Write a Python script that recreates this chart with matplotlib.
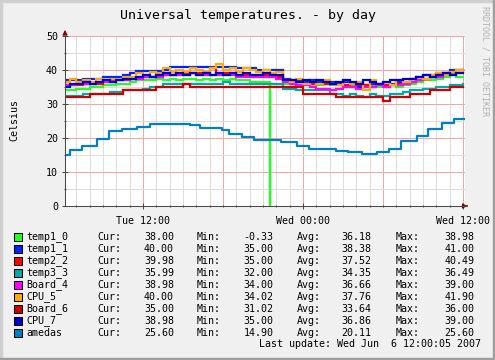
import numpy as np
import matplotlib
matplotlib.use("Agg")
from matplotlib import pyplot as plt
from matplotlib.patches import Rectangle

# hours since Tue 00:00, one sample every half hour (6.0 .. 36.0)
hours = [6.0 + 0.5 * i for i in range(61)]

temp1_0 = [34.0, 34.0, 34.5, 34.5, 35.0, 35.0, 35.5, 35.5, 36.0, 36.0,
           36.5, 37.0, 37.0, 37.0, 37.5, 37.0, 37.5, 37.0, 37.5, 37.5,
           37.0, 37.5, 37.0, 37.5, 37.0, 37.5, 37.0, 37.0, 36.5, 36.5,
           36.5, 36.0, 36.0, 36.0, 36.0, 35.5, 36.0, 36.0, 35.5, 36.0,
           35.5, 36.0, 35.5, 35.5, 36.0, 35.5, 35.5, 35.0, 35.0, 35.5,
           35.0, 35.5, 36.0, 36.5, 37.0, 37.0, 37.5, 38.0, 38.98, 38.0,
           38.0]
# short sensor dropout of temp1_0 (start, end, value)
drop_t = [21.5, 21.56]
drop_v = -0.33

temp1_1 = [37.0, 37.0, 37.0, 37.5, 37.5, 37.5, 38.0, 38.0, 38.0, 38.5,
           39.0, 39.8, 39.8, 39.8, 39.8, 40.0, 41.0, 41.0, 41.0, 41.0,
           41.0, 41.0, 41.0, 41.0, 41.0, 41.0, 40.5, 40.5, 40.5, 40.0,
           40.0, 40.0, 40.0, 37.5, 37.0, 37.0, 36.5, 37.0, 36.5, 36.0,
           36.5, 36.0, 36.5, 36.0, 35.0, 35.5, 36.0, 36.0, 35.5, 36.0,
           36.5, 36.5, 37.5, 38.0, 38.5, 38.5, 39.0, 39.0, 40.0, 40.0,
           40.0]

temp2_2 = [35.5, 35.5, 35.5, 36.0, 36.0, 36.0, 36.5, 36.5, 37.0, 37.0,
           37.5, 38.0, 38.0, 38.0, 38.5, 38.5, 38.5, 39.0, 39.0, 39.0,
           39.0, 39.0, 40.49, 39.0, 39.0, 39.0, 38.5, 38.5, 38.5, 38.5,
           38.5, 38.5, 38.0, 37.0, 36.5, 36.5, 36.0, 36.0, 36.0, 36.0,
           36.0, 35.5, 35.5, 35.0, 35.5, 35.5, 35.0, 35.5, 35.5, 35.5,
           36.0, 36.0, 36.5, 37.0, 37.5, 38.0, 38.5, 39.0, 39.5, 40.0,
           39.98]

temp3_3 = [32.5, 32.5, 32.5, 33.0, 33.0, 33.0, 33.0, 33.5, 33.5, 34.0,
           34.0, 34.0, 34.5, 35.0, 35.0, 35.9, 35.9, 35.9, 35.9, 35.9,
           35.9, 35.9, 35.9, 35.9, 36.49, 35.9, 35.9, 35.9, 35.9, 35.9,
           35.9, 35.9, 35.9, 34.5, 34.5, 34.0, 34.0, 34.0, 34.0, 34.0,
           33.0, 33.0, 32.5, 33.0, 32.5, 32.0, 33.0, 32.5, 32.5, 33.0,
           33.0, 33.5, 34.0, 34.0, 34.5, 34.5, 35.0, 35.0, 35.5, 35.5,
           35.99]

board_4 = [35.5, 35.5, 36.0, 36.0, 36.0, 36.5, 36.5, 37.0, 37.0, 37.0,
           37.5, 37.5, 38.0, 38.0, 38.0, 38.5, 38.5, 38.5, 38.5, 39.0,
           38.5, 38.5, 38.5, 38.5, 38.5, 38.5, 38.0, 38.0, 38.0, 38.0,
           38.0, 38.0, 37.5, 36.5, 36.0, 35.5, 35.5, 35.0, 34.5, 34.5,
           34.0, 34.5, 35.0, 35.0, 34.5, 35.0, 35.0, 35.5, 35.0, 35.5,
           35.5, 36.0, 36.5, 37.0, 37.5, 38.0, 38.0, 38.5, 38.5, 39.0,
           38.98]

cpu_5 = [36.5, 37.5, 36.5, 37.0, 36.5, 37.5, 37.0, 37.5, 37.0, 38.0,
         38.0, 39.0, 38.5, 39.5, 39.0, 40.5, 39.5, 40.0, 39.5, 40.5,
         40.0, 39.5, 40.5, 41.9, 40.0, 40.5, 39.5, 40.5, 40.0, 39.5,
         40.0, 39.0, 39.5, 37.0, 36.5, 37.5, 36.0, 36.5, 36.0, 37.0,
         36.0, 35.5, 37.0, 36.0, 36.5, 34.02, 37.0, 36.0, 36.5, 35.5,
         37.0, 36.5, 37.5, 38.0, 37.5, 38.5, 39.0, 38.5, 39.5, 40.0,
         40.0]

board_6 = [32.0, 32.0, 32.0, 32.0, 33.0, 33.0, 33.0, 33.0, 33.0, 34.0,
           34.0, 34.0, 34.0, 34.0, 35.0, 35.0, 35.0, 35.0, 36.0, 35.0,
           35.0, 35.0, 35.0, 35.0, 35.0, 35.0, 35.0, 35.0, 35.0, 35.0,
           35.0, 35.0, 35.0, 35.0, 35.0, 35.0, 33.0, 33.0, 33.0, 33.0,
           33.0, 32.0, 32.0, 32.0, 32.0, 32.0, 32.0, 32.0, 31.02, 32.0,
           32.0, 32.0, 33.0, 33.0, 33.0, 34.0, 34.0, 34.0, 35.0, 35.0,
           35.0]

cpu_7 = [35.0, 36.0, 36.0, 36.5, 36.0, 36.5, 37.0, 36.5, 37.0, 37.5,
         37.5, 38.0, 38.5, 38.0, 38.5, 39.0, 38.5, 39.0, 38.5, 39.0,
         38.5, 39.0, 38.5, 39.0, 38.5, 39.0, 38.5, 39.0, 38.5, 38.5,
         39.0, 38.5, 38.5, 37.0, 37.0, 36.5, 37.0, 36.5, 37.0, 36.5,
         36.0, 36.5, 37.0, 36.5, 36.0, 37.0, 36.5, 36.0, 36.5, 37.0,
         37.0, 37.5, 37.5, 38.0, 38.5, 38.0, 38.5, 39.0, 38.5, 39.0,
         38.98]

amedas_t = [6.15, 6.53, 7.43, 8.55, 9.45, 10.43, 11.55, 12.53, 14.55, 15.53,
            16.28, 17.93, 18.45, 19.43, 20.33, 22.33, 23.55, 24.45, 26.45,
            27.38, 28.4, 29.58, 30.45, 31.35, 32.58, 33.4, 34.45, 35.35, 36.15]
amedas = [14.9, 16.5, 17.6, 19.7, 22.0, 22.6, 23.2, 24.0, 24.2, 23.7,
          22.9, 22.4, 21.3, 20.2, 19.4, 18.7, 17.6, 16.9, 16.2,
          15.9, 15.4, 15.8, 16.9, 19.2, 20.6, 22.6, 24.4, 25.6, 25.6]

names = ["temp1_0", "temp1_1", "temp2_2", "temp3_3", "Board_4",
         "CPU_5", "Board_6", "CPU_7", "amedas"]
colors = ["#22FF22", "#0022FF", "#FF0000", "#00AAAA", "#FF00FF",
          "#FFAA00", "#CC0000", "#0000CC", "#0080C0"]
cur = ["38.00", "40.00", "39.98", "35.99", "38.98", "40.00", "35.00", "38.98", "25.60"]
mins = ["-0.33", "35.00", "35.00", "32.00", "34.00", "34.02", "31.02", "35.00", "14.90"]
avgs = ["36.18", "38.38", "37.52", "34.35", "36.66", "37.76", "33.64", "36.86", "20.11"]
maxs = ["38.98", "41.00", "40.49", "36.49", "39.00", "41.90", "36.00", "39.00", "25.60"]

W, H = 495, 360
mono = "DejaVu Sans Mono"
plt.rcParams['font.family'] = mono

fig = plt.figure(figsize=(W / 100, H / 100), dpi=100, facecolor="#F0F0F0")

# 3d-ish frame
fig.patches.append(Rectangle((0, 0), 2 / W, 1, transform=fig.transFigure, color="#CFCFCF", zorder=0))
fig.patches.append(Rectangle((0, 1 - 2 / H), 1, 2 / H, transform=fig.transFigure, color="#CFCFCF", zorder=0))
fig.patches.append(Rectangle((1 - 2 / W, 0), 2 / W, 1, transform=fig.transFigure, color="#9E9E9E", zorder=0))
fig.patches.append(Rectangle((0, 0), 1, 2 / H, transform=fig.transFigure, color="#9E9E9E", zorder=0))

x0, x1, ytop, ybot = 65, 465, 36, 206
ax = fig.add_axes([x0 / W, 1 - ybot / H, (x1 - x0) / W, (ybot - ytop) / H])
ax.set_facecolor("white")
ax.set_xlim(6.15, 36.15)
ax.set_ylim(0, 50)

# grid
for h in range(7, 37):
    c = "#EEA7A7" if h % 6 == 0 else "#DDDDDD"
    ax.axvline(h, color=c, lw=0.75, zorder=1)
for v in range(5, 51, 5):
    c = "#EEA7A7" if v % 10 == 0 else "#DDDDDD"
    ax.axhline(v, color=c, lw=0.75, zorder=1)

lw = 1.6
series = [temp1_0, temp1_1, temp2_2, temp3_3, board_4, cpu_5, board_6, cpu_7]
for k, s in enumerate(series):
    t = list(hours)
    vals = list(s)
    if k == 0:
        idx = int(np.searchsorted(t, drop_t[0]))
        back = vals[idx - 1]
        t[idx:idx] = drop_t
        vals[idx:idx] = [drop_v, back]
    ax.plot(t, vals, drawstyle="steps-post", color=colors[k], lw=lw, zorder=3 + k,
            solid_joinstyle="miter")
ax.plot(amedas_t, amedas, drawstyle="steps-post", color=colors[8], lw=lw, zorder=12)

for sp in ["top", "right"]:
    ax.spines[sp].set_visible(False)
for sp in ["left", "bottom"]:
    ax.spines[sp].set_color("#4A4A4A")
    ax.spines[sp].set_linewidth(0.75)
    ax.spines[sp].set_zorder(20)

ax.set_yticks(range(0, 51, 10))
ax.set_yticks(range(0, 51, 5), minor=True)
ax.set_xticks([12, 24, 36])
ax.set_xticks(range(7, 37), minor=True)
ax.set_xticklabels(["Tue 12:00", "Wed 00:00", "Wed 12:00"])
ax.tick_params(axis="both", which="major", direction="inout", length=4, width=0.75,
               color="#4A4A4A", labelsize=7.2, pad=3)
ax.tick_params(axis="both", which="minor", direction="inout", length=2, width=0.75,
               color="#4A4A4A")
ax.tick_params(axis="x", which="major", pad=5)

# axis arrows
ax.annotate("", xy=(36.55, 0), xytext=(36.1, 0), xycoords="data",
            arrowprops=dict(arrowstyle="-|>", color="#7F0000", lw=0.8, mutation_scale=7),
            annotation_clip=False)
ax.annotate("", xy=(6.15, 52.6), xytext=(6.15, 50), xycoords="data",
            arrowprops=dict(arrowstyle="-|>", color="#7F0000", lw=0.8, mutation_scale=7),
            annotation_clip=False)

def px(x, y):
    return x / W, 1 - y / H

fig.text(*px(248, 16), "Universal temperatures. - by day", ha="center", va="center",
         fontsize=9.5, color="black")
fig.text(*px(14, 120), "Celsius", rotation=90, ha="center", va="center", fontsize=7.2)
fig.text(*px(485, 6), "RRDTOOL / TOBI OETIKER", rotation=270, ha="center", va="top",
         fontsize=6, color="#B0B0B0")

row0, step = 237, 12
for i in range(9):
    y = row0 + i * step
    fig.patches.append(Rectangle(px(14, y + 4), 8 / W, 8 / H, transform=fig.transFigure,
                                 facecolor=colors[i], edgecolor="black", lw=0.75, zorder=5))
    fig.text(*px(26.7, y), names[i], ha="left", va="center", fontsize=7.2)
    fig.text(*px(97.3, y), "Cur:", ha="left", va="center", fontsize=7.2)
    fig.text(*px(174, y), cur[i], ha="right", va="center", fontsize=7.2)
    fig.text(*px(196.7, y), "Min:", ha="left", va="center", fontsize=7.2)
    fig.text(*px(273.3, y), mins[i], ha="right", va="center", fontsize=7.2)
    fig.text(*px(297.3, y), "Avg:", ha="left", va="center", fontsize=7.2)
    fig.text(*px(371.7, y), avgs[i], ha="right", va="center", fontsize=7.2)
    fig.text(*px(396, y), "Max:", ha="left", va="center", fontsize=7.2)
    fig.text(*px(474.3, y), maxs[i], ha="right", va="center", fontsize=7.2)
fig.text(*px(481, 344), "Last update: Wed Jun  6 12:00:05 2007", ha="right", va="center",
         fontsize=7.2)

fig.savefig("out.png", dpi=100, facecolor=fig.get_facecolor())
